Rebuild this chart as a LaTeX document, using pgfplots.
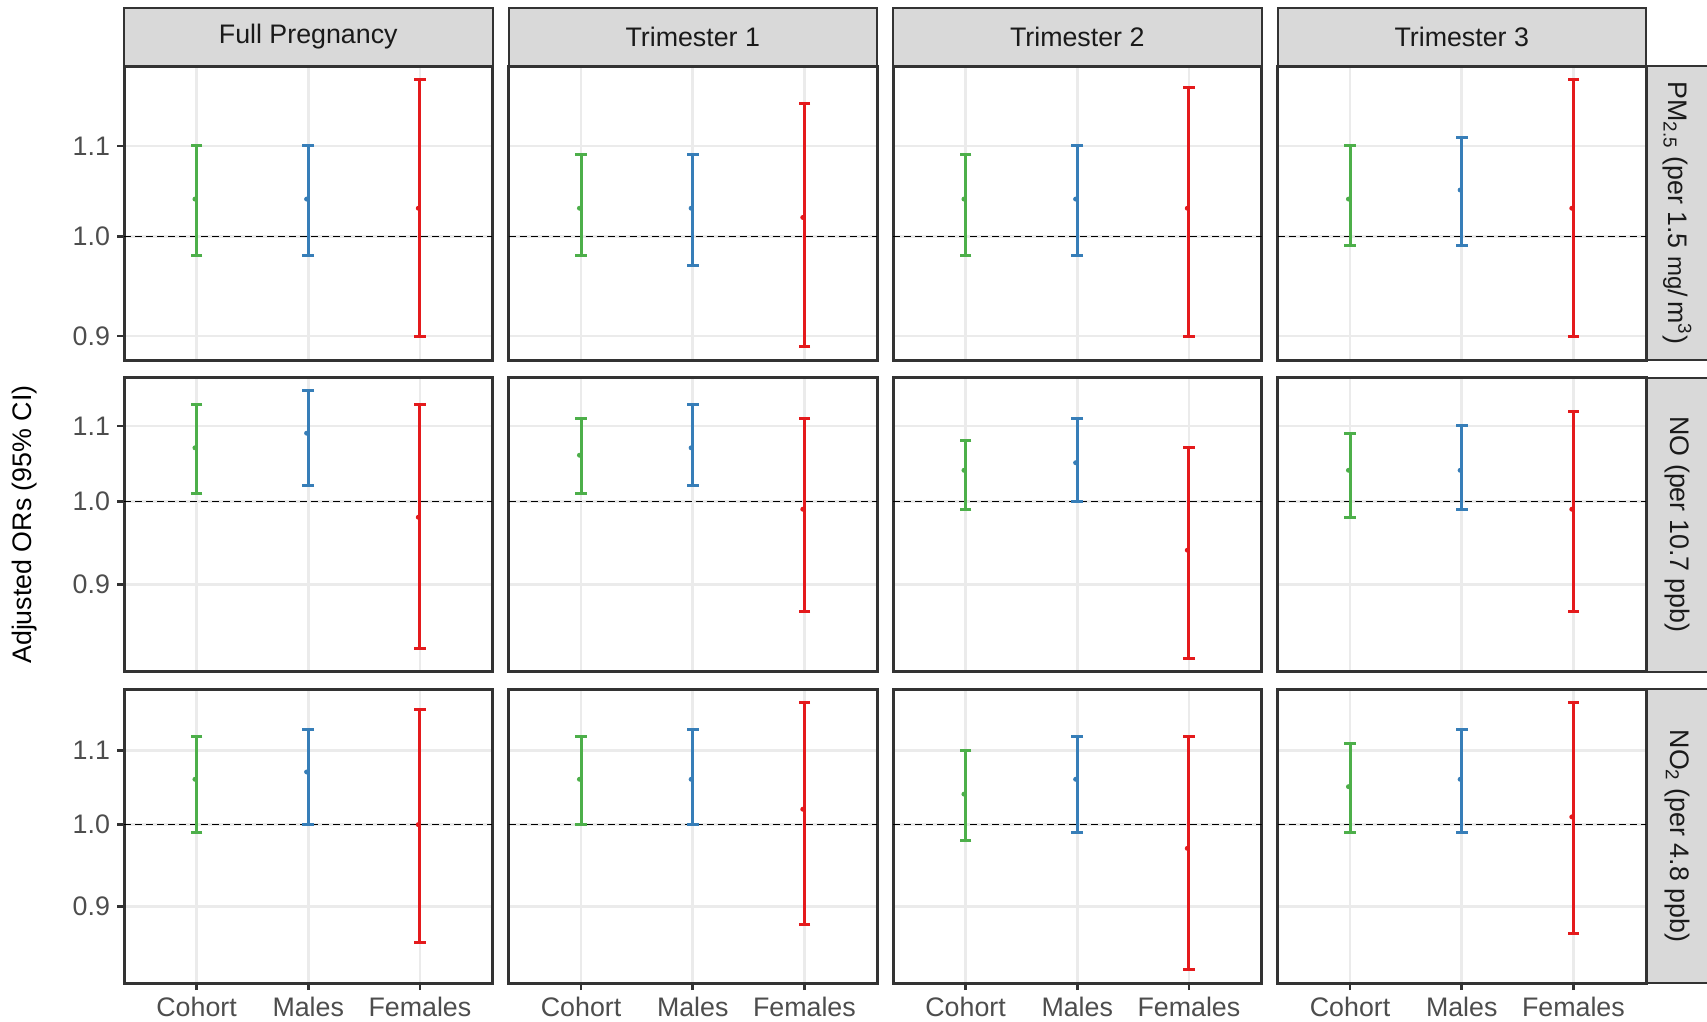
\documentclass[border=0pt]{standalone}
\usepackage{pgfplots}
\pgfplotsset{compat=1.18}
\usepackage{fontspec}
\setmainfont{Liberation Sans}
\definecolor{cgreen}{HTML}{4DAF4A}
\definecolor{cblue}{HTML}{377EB8}
\definecolor{cred}{HTML}{E41A1C}
\definecolor{gridc}{HTML}{EBEBEB}
\definecolor{borderc}{HTML}{333333}
\definecolor{stripc}{HTML}{D9D9D9}
\definecolor{tickc}{HTML}{4D4D4D}
\definecolor{stript}{HTML}{1A1A1A}
\newcommand{\fs}{\fontsize{13.4}{16}\selectfont}
\pgfplotsset{
 facetbox/.style={scale only axis, width=184.25pt, height=147pt, anchor=north west,
   xmin=-0.65, xmax=2.65, xtick={0,1,2}, ytick={0.9,1.0,1.1},
   minor xtick={}, minor ytick={},
   xtick pos=left, ytick pos=left, tick align=outside,
   major tick length=3.5pt,
   grid=major, major grid style={draw=gridc, line width=1.3pt},
   axis line style={draw=borderc, line width=1.5pt},
   tick style={draw=borderc, line width=1.3pt},
   ticklabel style={font=\fs, text=tickc},
   xticklabel=\empty, yticklabel=\empty,
   xtick style={draw=none}, ytick style={draw=none},
 },
 firstcol/.style={yticklabels={0.9,1.0,1.1}, ytick style={draw=borderc}},
 lastrow/.style={xticklabels={Cohort,Males,Females}, xtick style={draw=borderc}},
 refline/.style={black, line width=0.7pt, dash pattern=on 3.5pt off 2pt},
 ebar/.style={line width=1.5pt, mark=-, mark size=2.9pt, mark options={solid, line width=1.5pt}},
 edot/.style={only marks, mark=*, mark size=1pt},
}
\begin{document}
\begin{tikzpicture}
% top strips
\foreach \xl/\lab in {62/Full Pregnancy, 254.25/Trimester 1, 446.5/Trimester 2, 638.75/Trimester 3}{
  \draw[fill=stripc, draw=borderc, line width=1pt] (\xl pt,-4pt) rectangle ({\xl pt+184.25pt},-33pt);
  \node[font=\fs, text=stript, anchor=center, inner sep=0pt] at ({\xl pt+92.125pt},-18.5pt) {\lab};
}
% right strips
\draw[fill=stripc, draw=borderc, line width=1pt] (823pt,-33pt) rectangle (856pt,-180pt);
\draw[fill=stripc, draw=borderc, line width=1pt] (823pt,-188.75pt) rectangle (856pt,-335.75pt);
\draw[fill=stripc, draw=borderc, line width=1pt] (823pt,-344.5pt) rectangle (856pt,-491.5pt);
\node[font=\fs, text=stript, rotate=-90, inner sep=0pt] at (838.5pt,-106.5pt) {PM\textsubscript{2.5} (per 1.5 {\fontsize{12}{14}\selectfont mg}/\,m\textsuperscript{3})};
\node[font=\fs, text=stript, rotate=-90, inner sep=0pt] at (838.5pt,-262.25pt) {NO (per 10.7 ppb)};
\node[font=\fs, text=stript, rotate=-90, inner sep=0pt] at (838.5pt,-418pt) {NO\textsubscript{2} (per 4.8 ppb)};
% y title
\node[font=\fs, rotate=90, inner sep=0pt] at (12.5pt,-262.25pt) {Adjusted ORs (95\% CI)};

% ---------- Row 1: PM2.5 ----------
\begin{axis}[ymode=log, facetbox, firstcol, at={(62pt,-33pt)}, ymin=0.8776, ymax=1.1967]
\addplot[refline] coordinates {(-0.65,1) (2.65,1)};
\addplot[ebar, cgreen] coordinates {(0,0.98) (0,1.10)};
\addplot[edot, cgreen] coordinates {(-0.015,1.04)};
\addplot[ebar, cblue] coordinates {(1,0.98) (1,1.10)};
\addplot[edot, cblue] coordinates {(0.985,1.04)};
\addplot[ebar, cred] coordinates {(2,0.90) (2,1.18)};
\addplot[edot, cred] coordinates {(1.985,1.03)};
\end{axis}
\begin{axis}[ymode=log, facetbox, at={(254.25pt,-33pt)}, ymin=0.8776, ymax=1.1967]
\addplot[refline] coordinates {(-0.65,1) (2.65,1)};
\addplot[ebar, cgreen] coordinates {(0,0.98) (0,1.09)};
\addplot[edot, cgreen] coordinates {(-0.015,1.03)};
\addplot[ebar, cblue] coordinates {(1,0.97) (1,1.09)};
\addplot[edot, cblue] coordinates {(0.985,1.03)};
\addplot[ebar, cred] coordinates {(2,0.89) (2,1.15)};
\addplot[edot, cred] coordinates {(1.985,1.02)};
\end{axis}
\begin{axis}[ymode=log, facetbox, at={(446.5pt,-33pt)}, ymin=0.8776, ymax=1.1967]
\addplot[refline] coordinates {(-0.65,1) (2.65,1)};
\addplot[ebar, cgreen] coordinates {(0,0.98) (0,1.09)};
\addplot[edot, cgreen] coordinates {(-0.015,1.04)};
\addplot[ebar, cblue] coordinates {(1,0.98) (1,1.10)};
\addplot[edot, cblue] coordinates {(0.985,1.04)};
\addplot[ebar, cred] coordinates {(2,0.90) (2,1.17)};
\addplot[edot, cred] coordinates {(1.985,1.03)};
\end{axis}
\begin{axis}[ymode=log, facetbox, at={(638.75pt,-33pt)}, ymin=0.8776, ymax=1.1967]
\addplot[refline] coordinates {(-0.65,1) (2.65,1)};
\addplot[ebar, cgreen] coordinates {(0,0.99) (0,1.10)};
\addplot[edot, cgreen] coordinates {(-0.015,1.04)};
\addplot[ebar, cblue] coordinates {(1,0.99) (1,1.11)};
\addplot[edot, cblue] coordinates {(0.985,1.05)};
\addplot[ebar, cred] coordinates {(2,0.90) (2,1.18)};
\addplot[edot, cred] coordinates {(1.985,1.03)};
\end{axis}

% ---------- Row 2: NO ----------
\begin{axis}[ymode=log, facetbox, firstcol, at={(62pt,-188.75pt)}, ymin=0.8062, ymax=1.1696]
\addplot[refline] coordinates {(-0.65,1) (2.65,1)};
\addplot[ebar, cgreen] coordinates {(0,1.01) (0,1.13)};
\addplot[edot, cgreen] coordinates {(-0.015,1.07)};
\addplot[ebar, cblue] coordinates {(1,1.02) (1,1.15)};
\addplot[edot, cblue] coordinates {(0.985,1.09)};
\addplot[ebar, cred] coordinates {(2,0.83) (2,1.13)};
\addplot[edot, cred] coordinates {(1.985,0.98)};
\end{axis}
\begin{axis}[ymode=log, facetbox, at={(254.25pt,-188.75pt)}, ymin=0.8062, ymax=1.1696]
\addplot[refline] coordinates {(-0.65,1) (2.65,1)};
\addplot[ebar, cgreen] coordinates {(0,1.01) (0,1.11)};
\addplot[edot, cgreen] coordinates {(-0.015,1.06)};
\addplot[ebar, cblue] coordinates {(1,1.02) (1,1.13)};
\addplot[edot, cblue] coordinates {(0.985,1.07)};
\addplot[ebar, cred] coordinates {(2,0.87) (2,1.11)};
\addplot[edot, cred] coordinates {(1.985,0.99)};
\end{axis}
\begin{axis}[ymode=log, facetbox, at={(446.5pt,-188.75pt)}, ymin=0.8062, ymax=1.1696]
\addplot[refline] coordinates {(-0.65,1) (2.65,1)};
\addplot[ebar, cgreen] coordinates {(0,0.99) (0,1.08)};
\addplot[edot, cgreen] coordinates {(-0.015,1.04)};
\addplot[ebar, cblue] coordinates {(1,1.00) (1,1.11)};
\addplot[edot, cblue] coordinates {(0.985,1.05)};
\addplot[ebar, cred] coordinates {(2,0.82) (2,1.07)};
\addplot[edot, cred] coordinates {(1.985,0.94)};
\end{axis}
\begin{axis}[ymode=log, facetbox, at={(638.75pt,-188.75pt)}, ymin=0.8062, ymax=1.1696]
\addplot[refline] coordinates {(-0.65,1) (2.65,1)};
\addplot[ebar, cgreen] coordinates {(0,0.98) (0,1.09)};
\addplot[edot, cgreen] coordinates {(-0.015,1.04)};
\addplot[ebar, cblue] coordinates {(1,0.99) (1,1.10)};
\addplot[edot, cblue] coordinates {(0.985,1.04)};
\addplot[ebar, cred] coordinates {(2,0.87) (2,1.12)};
\addplot[edot, cred] coordinates {(1.985,0.99)};
\end{axis}

% ---------- Row 3: NO2 ----------
\begin{axis}[ymode=log, facetbox, firstcol, lastrow, at={(62pt,-344.5pt)}, ymin=0.8159, ymax=1.1903]
\addplot[refline] coordinates {(-0.65,1) (2.65,1)};
\addplot[ebar, cgreen] coordinates {(0,0.99) (0,1.12)};
\addplot[edot, cgreen] coordinates {(-0.015,1.06)};
\addplot[ebar, cblue] coordinates {(1,1.00) (1,1.13)};
\addplot[edot, cblue] coordinates {(0.985,1.07)};
\addplot[ebar, cred] coordinates {(2,0.86) (2,1.16)};
\addplot[edot, cred] coordinates {(1.985,1.00)};
\end{axis}
\begin{axis}[ymode=log, facetbox, lastrow, at={(254.25pt,-344.5pt)}, ymin=0.8159, ymax=1.1903]
\addplot[refline] coordinates {(-0.65,1) (2.65,1)};
\addplot[ebar, cgreen] coordinates {(0,1.00) (0,1.12)};
\addplot[edot, cgreen] coordinates {(-0.015,1.06)};
\addplot[ebar, cblue] coordinates {(1,1.00) (1,1.13)};
\addplot[edot, cblue] coordinates {(0.985,1.06)};
\addplot[ebar, cred] coordinates {(2,0.88) (2,1.17)};
\addplot[edot, cred] coordinates {(1.985,1.02)};
\end{axis}
\begin{axis}[ymode=log, facetbox, lastrow, at={(446.5pt,-344.5pt)}, ymin=0.8159, ymax=1.1903]
\addplot[refline] coordinates {(-0.65,1) (2.65,1)};
\addplot[ebar, cgreen] coordinates {(0,0.98) (0,1.10)};
\addplot[edot, cgreen] coordinates {(-0.015,1.04)};
\addplot[ebar, cblue] coordinates {(1,0.99) (1,1.12)};
\addplot[edot, cblue] coordinates {(0.985,1.06)};
\addplot[ebar, cred] coordinates {(2,0.83) (2,1.12)};
\addplot[edot, cred] coordinates {(1.985,0.97)};
\end{axis}
\begin{axis}[ymode=log, facetbox, lastrow, at={(638.75pt,-344.5pt)}, ymin=0.8159, ymax=1.1903]
\addplot[refline] coordinates {(-0.65,1) (2.65,1)};
\addplot[ebar, cgreen] coordinates {(0,0.99) (0,1.11)};
\addplot[edot, cgreen] coordinates {(-0.015,1.05)};
\addplot[ebar, cblue] coordinates {(1,0.99) (1,1.13)};
\addplot[edot, cblue] coordinates {(0.985,1.06)};
\addplot[ebar, cred] coordinates {(2,0.87) (2,1.17)};
\addplot[edot, cred] coordinates {(1.985,1.01)};
\end{axis}

\pgfresetboundingbox
\path[use as bounding box] (0pt,0pt) rectangle (853.5pt,-511pt);
\end{tikzpicture}
\end{document}
